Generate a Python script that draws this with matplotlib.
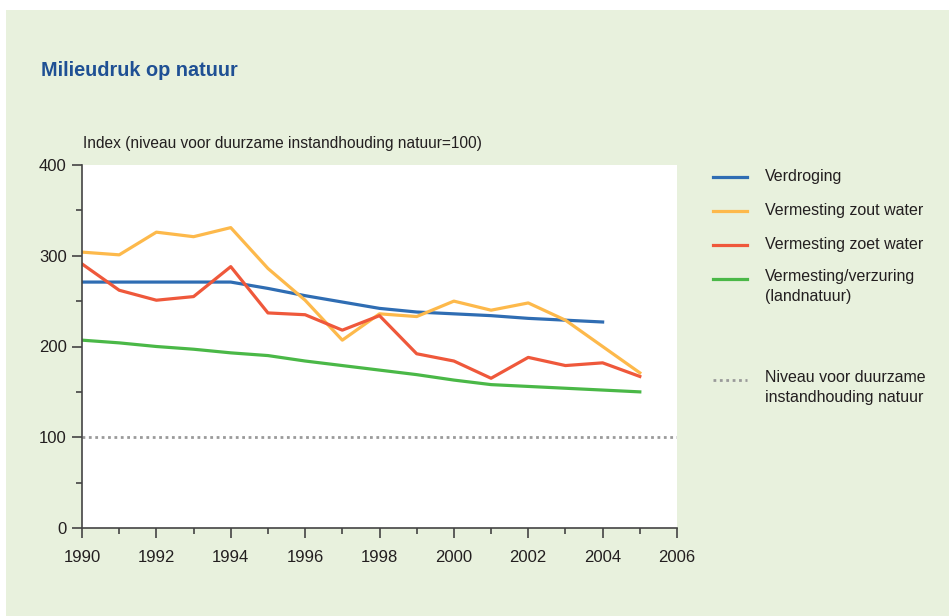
import numpy as np
import matplotlib
matplotlib.use('Agg')
import matplotlib.pyplot as plt
from matplotlib.patches import Rectangle
from matplotlib.ticker import MultipleLocator

plt.rcParams['font.family'] = ['Liberation Sans', 'DejaVu Sans']

# Data
years = np.arange(1990, 2006)
verdroging = [271, 271, 271, 271, 271, 264, 256, 249, 242, 238, 236, 234, 231, 229, 227]
zout_water = [304, 301, 326, 321, 331, 286, 251, 207, 236, 233, 250, 240, 248, 229, 200, 171]
zoet_water = [291, 262, 251, 255, 288, 237, 235, 218, 234, 192, 184, 165, 188, 179, 182, 167]
verzuring = [207, 204, 200, 197, 193, 190, 184, 179, 174, 169, 163, 158, 156, 154, 152, 150]
norm_level = 100

labels = ['Verdroging', 'Vermesting zout water', 'Vermesting zoet water',
          'Vermesting/verzuring\n(landnatuur)']
norm_label = 'Niveau voor duurzame\ninstandhouding natuur'
colors = ['#2f6db3', '#fdb94b', '#ef583b', '#4ab847']
series = [verdroging, zout_water, zoet_water, verzuring]

bg = '#e8f1dd'
text_col = '#231f20'
dot_style = (0, (1, 1.3))

fig = plt.figure(figsize=(9.49, 6.16), dpi=100)
fig.patch.set_facecolor('white')
# light green panel behind everything
fig.patches.append(Rectangle((6 / 949, 0), 1, 606 / 616, transform=fig.transFigure,
                             facecolor=bg, edgecolor='none', zorder=-10))

ax = fig.add_axes([82 / 949, 88 / 616, 595 / 949, 363 / 616])
ax.set_facecolor('white')

for vals, col in zip(series, colors):
    ax.plot(years[:len(vals)], vals, color=col, lw=2.3)
ax.axhline(norm_level, color='#9a9a9a', lw=2, linestyle=dot_style)

ax.set_xlim(1990, 2006)
ax.set_ylim(0, 400)
ax.xaxis.set_major_locator(MultipleLocator(2))
ax.xaxis.set_minor_locator(MultipleLocator(1))
ax.yaxis.set_major_locator(MultipleLocator(100))
ax.yaxis.set_minor_locator(MultipleLocator(50))
for s in ['top', 'right']:
    ax.spines[s].set_visible(False)
for s in ['left', 'bottom']:
    ax.spines[s].set_color('#444444')
    ax.spines[s].set_linewidth(1.2)
ax.tick_params(which='major', length=7, width=1.2, color='#444444',
               labelsize=12, labelcolor=text_col, pad=4)
ax.tick_params(axis='x', which='major', pad=9)
ax.tick_params(which='minor', length=4, width=1.2, color='#444444')

fig.text(41 / 949, 1 - 71 / 616, 'Milieudruk op natuur', fontsize=14.3, fontweight='bold',
         color='#1f5094', va='center', ha='left')
fig.text(83 / 949, 1 - 143 / 616, 'Index (niveau voor duurzame instandhouding natuur=100)',
         fontsize=11.2, color=text_col, va='center', ha='left')

# legend drawn by hand on the figure
leg_y = [177, 211, 245, 279]
for lab, col, y in zip(labels, colors, leg_y):
    fig.add_artist(plt.Line2D([713 / 949, 747 / 949], [1 - y / 616] * 2, color=col, lw=2.3))
    if '\n' in lab:
        fig.text(765 / 949, 1 - (y - 10) / 616, lab, fontsize=11.5, color=text_col,
                 va='top', ha='left', linespacing=1.4)
    else:
        fig.text(765 / 949, 1 - y / 616, lab, fontsize=11.5, color=text_col,
                 va='center', ha='left')
fig.add_artist(plt.Line2D([713 / 949, 747 / 949], [1 - 380 / 616] * 2, color='#9a9a9a',
                          lw=2, linestyle=dot_style))
fig.text(765 / 949, 1 - 370 / 616, norm_label,
         fontsize=11.5, color=text_col, va='top', ha='left', linespacing=1.4)

fig.savefig('out.png', dpi=100, facecolor=fig.get_facecolor())
